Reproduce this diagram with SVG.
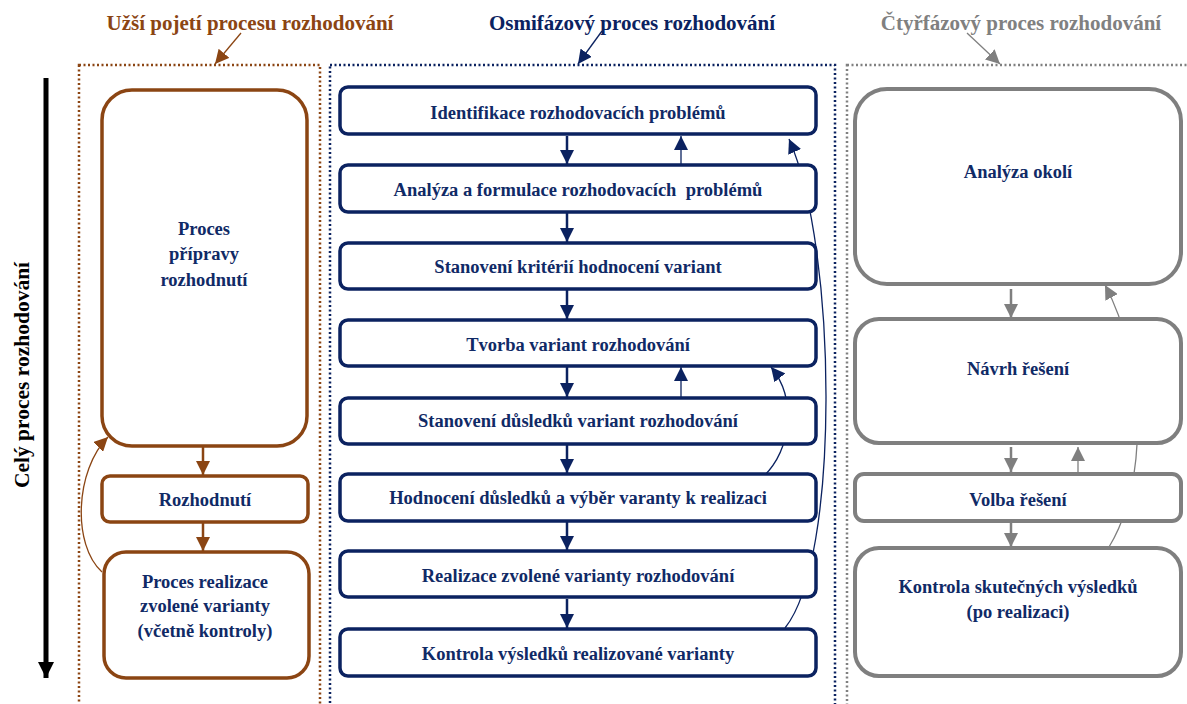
<svg xmlns="http://www.w3.org/2000/svg" width="1187" height="704" viewBox="0 0 1187 704" font-family="'Liberation Serif', 'DejaVu Serif', serif">
<defs>
<style>
text{font-weight:bold;text-anchor:middle;}
.t{font-size:18.5px;fill:#102a66;}
.h{font-size:21px;}
.br{fill:#fff;stroke:#8b4513;stroke-width:3.5;}
.nv{fill:#fff;stroke:#0b2260;stroke-width:3.5;}
.gr{fill:#fff;stroke:#7f7f7f;stroke-width:4;}
.cb{fill:none;stroke:#8b4513;stroke-width:2.5;stroke-dasharray:2 2.5;}
.cn{fill:none;stroke:#0b2260;stroke-width:2.5;stroke-dasharray:2 2.5;}
.cg{fill:none;stroke:#808080;stroke-width:2.5;stroke-dasharray:2 2.5;}
</style>
<marker id="abL" viewBox="0 0 10 10" refX="10" refY="5" markerWidth="14" markerHeight="14" markerUnits="userSpaceOnUse" orient="auto"><path d="M0,0 L10,5 L0,10 z" fill="#8b4513"/></marker>
<marker id="an" viewBox="0 0 10 10" refX="10" refY="5" markerWidth="14" markerHeight="14" markerUnits="userSpaceOnUse" orient="auto"><path d="M0,0 L10,5 L0,10 z" fill="#0b2260"/></marker>
<marker id="ag" viewBox="0 0 10 10" refX="10" refY="5" markerWidth="14" markerHeight="14" markerUnits="userSpaceOnUse" orient="auto"><path d="M0,0 L10,5 L0,10 z" fill="#7f7f7f"/></marker>
<marker id="ak" viewBox="0 0 10 10" refX="10" refY="5" markerWidth="16" markerHeight="16" markerUnits="userSpaceOnUse" orient="auto"><path d="M0,0 L10,5 L0,10 z" fill="#000"/></marker>
</defs>
<rect width="1187" height="704" fill="#fff"/>

<g id="containers">
<rect class="cb" x="79" y="65" width="241" height="660"/>
<rect class="cn" x="330" y="65" width="505" height="660"/>
<rect class="cg" x="847" y="65" width="360" height="660"/>
</g>

<g id="titles">
<text class="h" x="250" y="30" fill="#8b4513">Užší pojetí procesu rozhodování</text>
<text class="h" x="632" y="30" fill="#0b2260">Osmifázový proces rozhodování</text>
<text class="h" x="1021" y="30" fill="#808080">Čtyřfázový proces rozhodování</text>
<text x="0" y="0" fill="#000" font-size="21.5" transform="translate(29,375) rotate(-90)">Celý proces rozhodování</text>
</g>

<g id="connectors">
<path d="M241,33 L215,64" stroke="#8b4513" stroke-width="1.3" fill="none" marker-end="url(#abL)"/>
<path d="M602,31 L578,64" stroke="#0b2260" stroke-width="1.3" fill="none" marker-end="url(#an)"/>
<path d="M967,33 L1000,64" stroke="#7f7f7f" stroke-width="1.3" fill="none" marker-end="url(#ag)"/>
<path d="M46,78 L46,678" stroke="#000" stroke-width="5" fill="none" marker-end="url(#ak)"/>

<path d="M203,447 L203,475" stroke="#8b4513" stroke-width="2.5" fill="none" marker-end="url(#abL)"/>
<path d="M203,523 L203,551" stroke="#8b4513" stroke-width="2.5" fill="none" marker-end="url(#abL)"/>
<path d="M102,572 C72,545 75,470 108,437" stroke="#8b4513" stroke-width="1.3" fill="none" marker-end="url(#abL)"/>

<g stroke="#0b2260" stroke-width="2.5" fill="none" marker-end="url(#an)">
<path d="M567,136 L567,164"/>
<path d="M567,213 L567,242"/>
<path d="M567,290 L567,319"/>
<path d="M567,367 L567,397"/>
<path d="M567,445 L567,473"/>
<path d="M567,522 L567,550"/>
<path d="M567,599 L567,628"/>
</g>
<g stroke="#0b2260" stroke-width="1.3" fill="none" marker-end="url(#an)">
<path d="M681,165 L681,136"/>
<path d="M681,397 L681,367"/>
<path d="M764,476 C790,450 798,400 771,367"/>
<path d="M785,628 C840,560 838,250 789,139"/>
</g>

<g stroke="#7f7f7f" stroke-width="2.5" fill="none" marker-end="url(#ag)">
<path d="M1011,289 L1011,318"/>
<path d="M1011,447 L1011,472"/>
<path d="M1011,523 L1011,547"/>
</g>
<g stroke="#7f7f7f" stroke-width="1.3" fill="none" marker-end="url(#ag)">
<path d="M1078,474 L1078,447"/>
<path d="M1109,547 C1150,480 1145,360 1105,285"/>
</g>
</g>

<g id="n-priprava"><rect class="br" x="102" y="90" width="205" height="356" rx="30"/>
<text class="t" x="204" y="235">Proces</text><text class="t" x="204" y="260">přípravy</text><text class="t" x="204" y="286">rozhodnutí</text></g>
<g id="n-rozhodnuti"><rect class="br" x="102" y="476" width="206" height="46" rx="8"/>
<text class="t" x="205" y="506">Rozhodnutí</text></g>
<g id="n-realizace"><rect class="br" x="104" y="552" width="205" height="126" rx="22"/>
<text class="t" x="205" y="588">Proces realizace</text><text class="t" x="205" y="612">zvolené varianty</text><text class="t" x="205" y="637">(včetně kontroly)</text></g>

<g id="n-m1"><rect class="nv" x="340" y="87" width="476" height="47" rx="8"/><text class="t" x="578" y="119">Identifikace rozhodovacích problémů</text></g>
<g id="n-m2"><rect class="nv" x="340" y="165" width="476" height="47" rx="8"/><text class="t" x="578" y="196" xml:space="preserve">Analýza a formulace rozhodovacích  problémů</text></g>
<g id="n-m3"><rect class="nv" x="340" y="243" width="476" height="46" rx="8"/><text class="t" x="578" y="273">Stanovení kritérií hodnocení variant</text></g>
<g id="n-m4"><rect class="nv" x="340" y="320" width="476" height="46" rx="8"/><text class="t" x="578" y="351">Tvorba variant rozhodování</text></g>
<g id="n-m5"><rect class="nv" x="340" y="398" width="476" height="46" rx="8"/><text class="t" x="578" y="427">Stanovení důsledků variant rozhodování</text></g>
<g id="n-m6"><rect class="nv" x="340" y="474" width="476" height="47" rx="8"/><text class="t" x="578" y="504">Hodnocení důsledků a výběr varanty k realizaci</text></g>
<g id="n-m7"><rect class="nv" x="340" y="551" width="476" height="46" rx="8"/><text class="t" x="578" y="582">Realizace zvolené varianty rozhodování</text></g>
<g id="n-m8"><rect class="nv" x="340" y="629" width="476" height="47" rx="8"/><text class="t" x="578" y="660">Kontrola výsledků realizované varianty</text></g>

<g id="n-analyza"><rect class="gr" x="855" y="89" width="326" height="195" rx="32"/><text class="t" x="1018" y="178">Analýza okolí</text></g>
<g id="n-navrh"><rect class="gr" x="855" y="319" width="326" height="124" rx="24"/><text class="t" x="1018" y="375">Návrh řešení</text></g>
<g id="n-volba"><rect class="gr" x="855" y="474" width="326" height="47" rx="9"/><text class="t" x="1018" y="506">Volba řešení</text></g>
<g id="n-kontrola"><rect class="gr" x="855" y="548" width="326" height="128" rx="24"/><text class="t" x="1018" y="593">Kontrola skutečných výsledků</text><text class="t" x="1018" y="618">(po realizaci)</text></g>
</svg>
